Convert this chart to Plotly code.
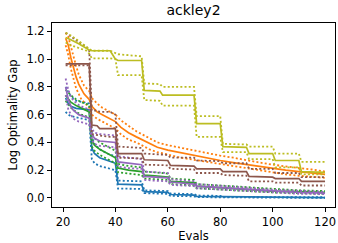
import plotly.graph_objects as go

# ---------------- data ----------------
blue_x     = [21, 22, 23, 25, 30, 31, 32, 34, 37, 40, 41, 50, 51, 60, 61, 70, 71, 80, 81, 120]
blue_mean  = [0.72, 0.68, 0.66, 0.645, 0.635, 0.36, 0.32, 0.29, 0.27, 0.25, 0.10, 0.095, 0.045, 0.04, 0.025, 0.02, 0.012, 0.01, 0.005, 0.002]
blue_upper = [0.80, 0.76, 0.73, 0.70, 0.68, 0.44, 0.39, 0.35, 0.32, 0.30, 0.125, 0.12, 0.055, 0.05, 0.032, 0.028, 0.018, 0.015, 0.008, 0.005]
blue_lower = [0.62, 0.60, 0.59, 0.58, 0.56, 0.28, 0.25, 0.23, 0.215, 0.20, 0.068, 0.065, 0.035, 0.03, 0.015, 0.012, 0.006, 0.005, 0.002, 0.0]

orange_x     = [21, 22, 23, 24, 25, 26, 27, 28, 29, 30, 31, 33, 35, 37, 40, 42, 45, 48, 50, 53, 56, 60, 65, 70, 75, 80, 85, 90, 95, 100, 105, 110, 115, 120]
orange_mean  = [1.15, 1.10, 1.01, 0.93, 0.87, 0.82, 0.78, 0.75, 0.73, 0.71, 0.66, 0.62, 0.60, 0.58, 0.55, 0.51, 0.47, 0.44, 0.42, 0.39, 0.365, 0.345, 0.325, 0.305, 0.29, 0.27, 0.255, 0.24, 0.225, 0.21, 0.20, 0.19, 0.18, 0.17]
orange_upper = [1.19, 1.16, 1.09, 1.01, 0.95, 0.89, 0.85, 0.81, 0.79, 0.77, 0.72, 0.68, 0.65, 0.63, 0.60, 0.56, 0.52, 0.48, 0.46, 0.43, 0.40, 0.38, 0.36, 0.34, 0.325, 0.305, 0.29, 0.27, 0.255, 0.24, 0.225, 0.215, 0.205, 0.19]
orange_lower = [1.10, 1.03, 0.93, 0.85, 0.79, 0.75, 0.71, 0.69, 0.67, 0.65, 0.60, 0.57, 0.55, 0.53, 0.50, 0.46, 0.42, 0.40, 0.38, 0.35, 0.33, 0.31, 0.29, 0.275, 0.26, 0.24, 0.225, 0.21, 0.195, 0.18, 0.17, 0.16, 0.155, 0.145]

green_x     = [21, 22, 23, 25, 27, 30, 31, 32, 34, 36, 38, 40, 41, 45, 50, 51, 55, 60, 61, 65, 70, 71, 80, 90, 100, 110, 120]
green_mean  = [0.74, 0.71, 0.69, 0.665, 0.645, 0.62, 0.42, 0.38, 0.35, 0.33, 0.31, 0.29, 0.215, 0.20, 0.19, 0.165, 0.16, 0.15, 0.12, 0.115, 0.11, 0.085, 0.075, 0.065, 0.05, 0.045, 0.04]
green_upper = [0.78, 0.76, 0.74, 0.71, 0.69, 0.67, 0.46, 0.43, 0.40, 0.38, 0.36, 0.34, 0.245, 0.23, 0.22, 0.19, 0.185, 0.175, 0.14, 0.135, 0.13, 0.10, 0.09, 0.08, 0.065, 0.055, 0.05]
green_lower = [0.70, 0.67, 0.65, 0.62, 0.60, 0.58, 0.37, 0.34, 0.31, 0.29, 0.27, 0.25, 0.185, 0.175, 0.165, 0.14, 0.135, 0.13, 0.10, 0.095, 0.09, 0.07, 0.06, 0.05, 0.04, 0.035, 0.03]

purple_x     = [21, 22, 23, 24, 26, 28, 30, 31, 32, 34, 40, 41, 45, 50, 51, 55, 60, 61, 65, 70, 71, 80, 90, 100, 110, 120]
purple_mean  = [0.80, 0.71, 0.66, 0.63, 0.60, 0.585, 0.575, 0.46, 0.43, 0.41, 0.40, 0.26, 0.25, 0.24, 0.155, 0.15, 0.145, 0.115, 0.11, 0.10, 0.085, 0.075, 0.06, 0.05, 0.04, 0.035]
purple_upper = [0.86, 0.78, 0.73, 0.70, 0.67, 0.65, 0.64, 0.50, 0.47, 0.46, 0.45, 0.30, 0.29, 0.28, 0.19, 0.185, 0.18, 0.135, 0.13, 0.12, 0.10, 0.09, 0.075, 0.06, 0.05, 0.045]
purple_lower = [0.74, 0.64, 0.60, 0.57, 0.55, 0.54, 0.53, 0.42, 0.39, 0.375, 0.365, 0.225, 0.215, 0.21, 0.13, 0.125, 0.12, 0.095, 0.09, 0.085, 0.07, 0.06, 0.05, 0.04, 0.03, 0.028]

brown_x     = [21, 30, 31, 33, 34, 38, 40, 41, 50, 51, 60, 61, 70, 71, 80, 81, 90, 91, 100, 101, 110, 111, 120]
brown_mean  = [0.965, 0.965, 0.525, 0.52, 0.50, 0.50, 0.50, 0.32, 0.32, 0.275, 0.27, 0.235, 0.23, 0.21, 0.21, 0.19, 0.19, 0.155, 0.15, 0.14, 0.14, 0.12, 0.12]
brown_upper = [1.19, 1.07, 0.63, 0.63, 0.62, 0.62, 0.60, 0.37, 0.36, 0.32, 0.31, 0.29, 0.29, 0.27, 0.265, 0.25, 0.25, 0.21, 0.21, 0.18, 0.18, 0.15, 0.15]
brown_lower = [0.955, 0.955, 0.46, 0.45, 0.45, 0.44, 0.44, 0.29, 0.285, 0.24, 0.235, 0.21, 0.205, 0.18, 0.18, 0.165, 0.16, 0.12, 0.12, 0.11, 0.11, 0.09, 0.09]

olive_x     = [21, 23, 26, 29, 30, 31, 38, 39, 40, 41, 50, 51, 57, 58, 70, 71, 80, 81, 90, 91, 100, 101, 110, 111, 120]
olive_mean  = [1.155, 1.14, 1.11, 1.075, 1.065, 1.06, 1.06, 1.03, 1.00, 0.99, 0.99, 0.775, 0.77, 0.74, 0.74, 0.535, 0.535, 0.37, 0.365, 0.32, 0.32, 0.27, 0.27, 0.19, 0.185]
olive_upper = [1.19, 1.17, 1.13, 1.09, 1.07, 1.06, 1.06, 1.05, 1.04, 1.035, 1.02, 0.825, 0.82, 0.80, 0.80, 0.59, 0.59, 0.39, 0.385, 0.37, 0.37, 0.32, 0.32, 0.26, 0.26]
olive_lower = [1.12, 1.10, 1.08, 1.06, 1.04, 1.005, 1.005, 1.00, 1.00, 0.885, 0.885, 0.705, 0.70, 0.665, 0.665, 0.44, 0.44, 0.33, 0.33, 0.28, 0.28, 0.22, 0.22, 0.17, 0.17]

x_ticks = [20, 40, 60, 80, 100, 120]
y_ticks = [0.0, 0.2, 0.4, 0.6, 0.8, 1.0, 1.2]

series = [
    ("#1f77b4", blue_x, blue_mean, blue_upper, blue_lower),
    ("#ff7f0e", orange_x, orange_mean, orange_upper, orange_lower),
    ("#2ca02c", green_x, green_mean, green_upper, green_lower),
    ("#9467bd", purple_x, purple_mean, purple_upper, purple_lower),
    ("#8c564b", brown_x, brown_mean, brown_upper, brown_lower),
    ("#bcbd22", olive_x, olive_mean, olive_upper, olive_lower),
]

fig = go.Figure()
for color, xs, m, up, lo in series:
    fig.add_trace(go.Scatter(x=xs, y=m, mode="lines",
                             line=dict(color=color, width=1.7), showlegend=False))
    for band in (up, lo):
        fig.add_trace(go.Scatter(x=xs, y=band, mode="lines",
                                 line=dict(color=color, width=1.8, dash="2px,2.2px"),
                                 showlegend=False))

font = dict(family="DejaVu Sans", size=11.5, color="black")
axis_common = dict(showline=True, linecolor="black", linewidth=1, mirror=True,
                   ticks="outside", ticklen=4, tickcolor="black", showgrid=False,
                   zeroline=False, tickfont=font)

fig.update_layout(
    width=338, height=243,
    margin=dict(l=52, r=3, t=23, b=36),
    paper_bgcolor="white", plot_bgcolor="white",
    font=font,
    title=dict(text="ackley2", x=0.5, xref="paper", xanchor="center",
               y=1 - 10.5 / 243, yref="container", yanchor="middle",
               font=dict(family="DejaVu Sans", size=14, color="black")),
    xaxis=dict(range=[15.8, 123.8], tickvals=x_ticks, ticktext=[str(v) for v in x_ticks],
               title=dict(text="Evals", font=font, standoff=4), **axis_common),
    yaxis=dict(range=[-0.065, 1.26], tickvals=y_ticks, ticktext=[f"{v:.1f}" for v in y_ticks],
               title=dict(text="Log Optimality Gap", font=font, standoff=6), **axis_common),
)

fig.write_html("out.html", config={"displayModeBar": False},
               post_script="document.body.style.margin='0';document.body.style.overflow='hidden';")
